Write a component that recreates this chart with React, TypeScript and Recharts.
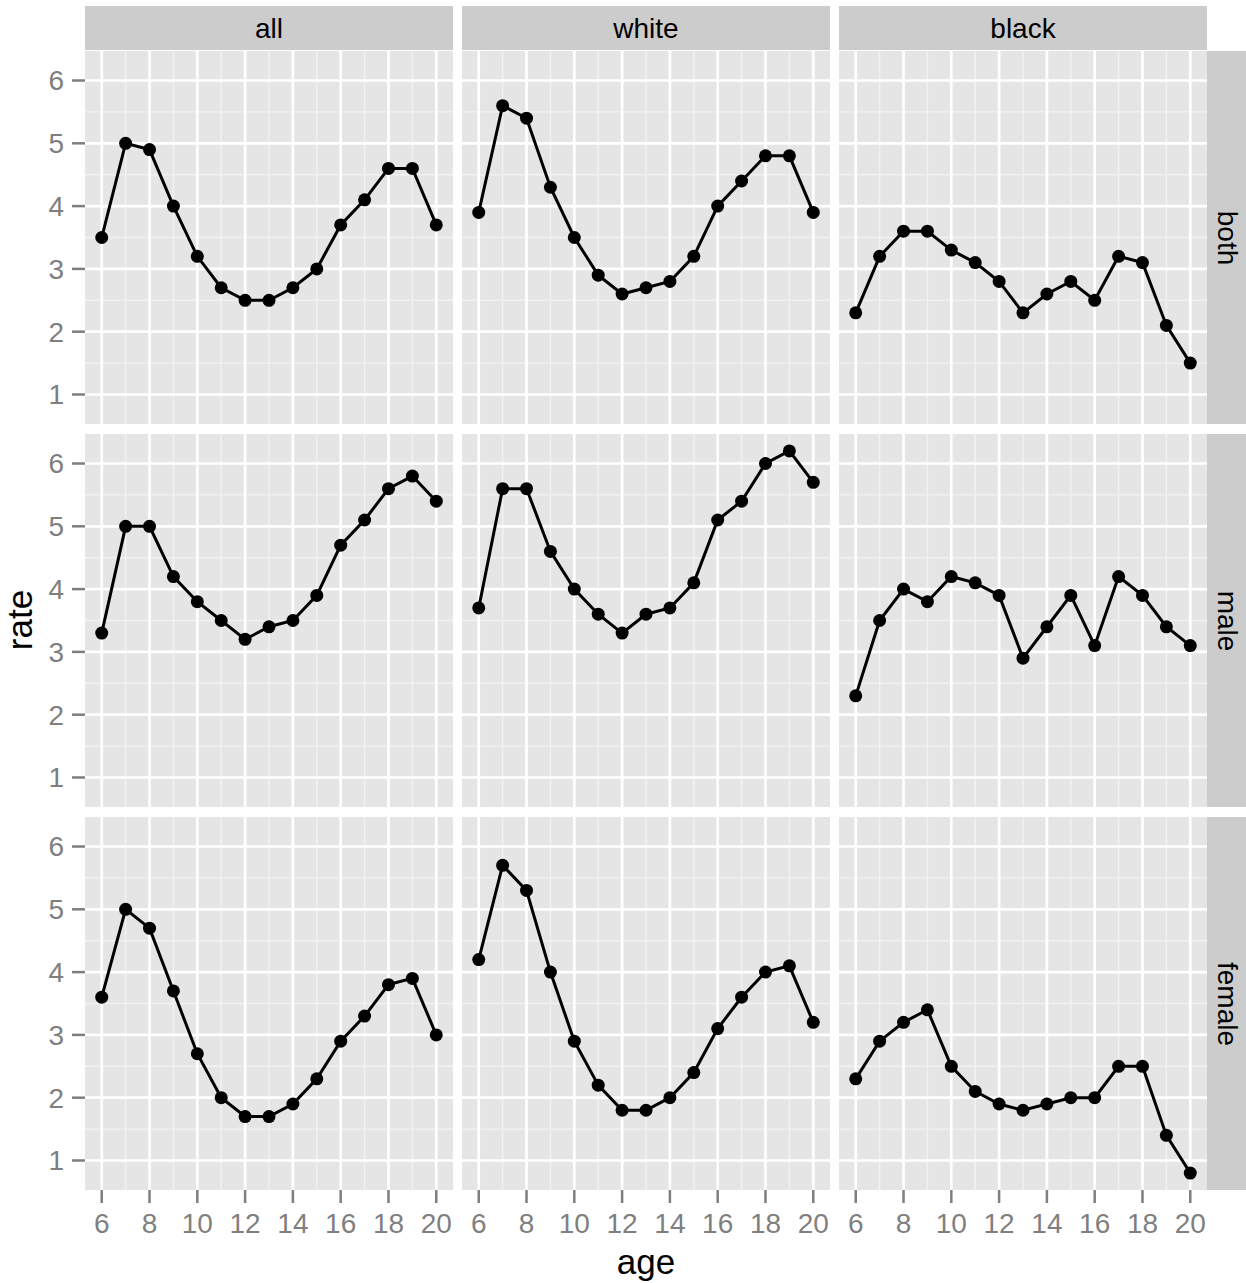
import React from 'react';
import { LineChart, Line, XAxis, YAxis, CartesianGrid } from 'recharts';

// ages on the x axis
const ages = [6, 7, 8, 9, 10, 11, 12, 13, 14, 15, 16, 17, 18, 19, 20];

const races = ['all', 'white', 'black'];
const sexes = ['both', 'male', 'female'];

// rate per age, one list per panel
const allBoth = [3.5, 5.0, 4.9, 4.0, 3.2, 2.7, 2.5, 2.5, 2.7, 3.0, 3.7, 4.1, 4.6, 4.6, 3.7];
const whiteBoth = [3.9, 5.6, 5.4, 4.3, 3.5, 2.9, 2.6, 2.7, 2.8, 3.2, 4.0, 4.4, 4.8, 4.8, 3.9];
const blackBoth = [2.3, 3.2, 3.6, 3.6, 3.3, 3.1, 2.8, 2.3, 2.6, 2.8, 2.5, 3.2, 3.1, 2.1, 1.5];
const allMale = [3.3, 5.0, 5.0, 4.2, 3.8, 3.5, 3.2, 3.4, 3.5, 3.9, 4.7, 5.1, 5.6, 5.8, 5.4];
const whiteMale = [3.7, 5.6, 5.6, 4.6, 4.0, 3.6, 3.3, 3.6, 3.7, 4.1, 5.1, 5.4, 6.0, 6.2, 5.7];
const blackMale = [2.3, 3.5, 4.0, 3.8, 4.2, 4.1, 3.9, 2.9, 3.4, 3.9, 3.1, 4.2, 3.9, 3.4, 3.1];
const allFemale = [3.6, 5.0, 4.7, 3.7, 2.7, 2.0, 1.7, 1.7, 1.9, 2.3, 2.9, 3.3, 3.8, 3.9, 3.0];
const whiteFemale = [4.2, 5.7, 5.3, 4.0, 2.9, 2.2, 1.8, 1.8, 2.0, 2.4, 3.1, 3.6, 4.0, 4.1, 3.2];
const blackFemale = [2.3, 2.9, 3.2, 3.4, 2.5, 2.1, 1.9, 1.8, 1.9, 2.0, 2.0, 2.5, 2.5, 1.4, 0.8];

const grid = [
  [allBoth, whiteBoth, blackBoth],
  [allMale, whiteMale, blackMale],
  [allFemale, whiteFemale, blackFemale],
];

const xTicks = [6, 8, 10, 12, 14, 16, 18, 20];
const xMinor = [7, 9, 11, 13, 15, 17, 19];
const yTicks = [1, 2, 3, 4, 5, 6];
const yMinor = [1.5, 2.5, 3.5, 4.5, 5.5];

const FONT = '"Liberation Sans", Arial, Helvetica, sans-serif';
const colLeft = [85, 462, 839];
const rowTop = [51, 434, 817];
const PW = 368;
const PH = 373;
const Y_AXIS_W = 85;
const X_AXIS_H = 50;

const tickStyle = { fill: '#7f7f7f', fontSize: 28, fontFamily: FONT };
const tickLine = { stroke: '#7f7f7f', strokeWidth: 2.5 };

function Panel({ values, row, col }: { values: number[]; row: number; col: number }) {
  const data = ages.map((a, i) => ({ age: a, rate: values[i] }));
  const first = col === 0;
  const last = row === 2;
  const w = PW + (first ? Y_AXIS_W : 0);
  const h = PH + (last ? X_AXIS_H : 0);
  return (
    <div style={{ position: 'absolute', left: colLeft[col] - (first ? Y_AXIS_W : 0), top: rowTop[row] }}>
      <LineChart width={w} height={h} data={data} margin={{ top: 0, right: 0, bottom: 0, left: 0 }}>
        <CartesianGrid
          fill="#e5e5e5"
          stroke="#f2f2f2"
          strokeWidth={1.4}
          horizontalValues={yMinor}
          verticalValues={xMinor}
        />
        <CartesianGrid
          stroke="#ffffff"
          strokeWidth={2.7}
          horizontalValues={yTicks}
          verticalValues={xTicks}
        />
        <XAxis
          type="number"
          dataKey="age"
          domain={[5.3, 20.7]}
          ticks={xTicks}
          allowDataOverflow
          hide={!last}
          height={X_AXIS_H}
          axisLine={false}
          tickLine={tickLine}
          tickSize={13}
          tickMargin={10}
          tick={tickStyle}
          interval={0}
        />
        <YAxis
          type="number"
          domain={[0.53, 6.47]}
          ticks={yTicks}
          allowDataOverflow
          hide={!first}
          width={Y_AXIS_W}
          axisLine={false}
          tickLine={tickLine}
          tickSize={13}
          tickMargin={8}
          tick={tickStyle}
          interval={0}
        />
        <Line
          type="linear"
          dataKey="rate"
          stroke="#000000"
          strokeWidth={3}
          dot={{ r: 6.5, fill: '#000000', stroke: 'none' }}
          isAnimationActive={false}
        />
      </LineChart>
    </div>
  );
}

export default function App() {
  return (
    <div
      style={{
        position: 'absolute',
        left: 0,
        top: 0,
        width: 1246,
        height: 1283,
        background: '#ffffff',
        fontFamily: FONT,
      }}
    >
      {races.map((r, c) => (
        <div
          key={r}
          style={{
            position: 'absolute',
            left: colLeft[c],
            top: 6,
            width: PW,
            height: 44,
            background: '#cccccc',
            color: '#000000',
            fontSize: 28,
            lineHeight: '46px',
            textAlign: 'center',
          }}
        >
          {r}
        </div>
      ))}
      {sexes.map((s, r) => (
        <div
          key={s}
          style={{
            position: 'absolute',
            left: 1207,
            top: rowTop[r],
            width: 39,
            height: PH,
            background: '#cccccc',
          }}
        >
          <div
            style={{
              position: 'absolute',
              left: '50%',
              top: '50%',
              transform: 'translate(-50%, -50%) rotate(90deg)',
              color: '#000000',
              fontSize: 28,
              whiteSpace: 'nowrap',
            }}
          >
            {s}
          </div>
        </div>
      ))}
      {grid.map((rowVals, r) =>
        rowVals.map((vals, c) => <Panel key={`${r}-${c}`} values={vals} row={r} col={c} />)
      )}
      <div
        style={{
          position: 'absolute',
          left: 20,
          top: 620,
          transform: 'translate(-50%, -50%) rotate(-90deg)',
          fontSize: 35,
          color: '#000000',
          whiteSpace: 'nowrap',
        }}
      >
        rate
      </div>
      <div
        style={{
          position: 'absolute',
          left: 646,
          top: 1262,
          transform: 'translate(-50%, -50%)',
          fontSize: 35,
          color: '#000000',
          whiteSpace: 'nowrap',
        }}
      >
        age
      </div>
    </div>
  );
}
